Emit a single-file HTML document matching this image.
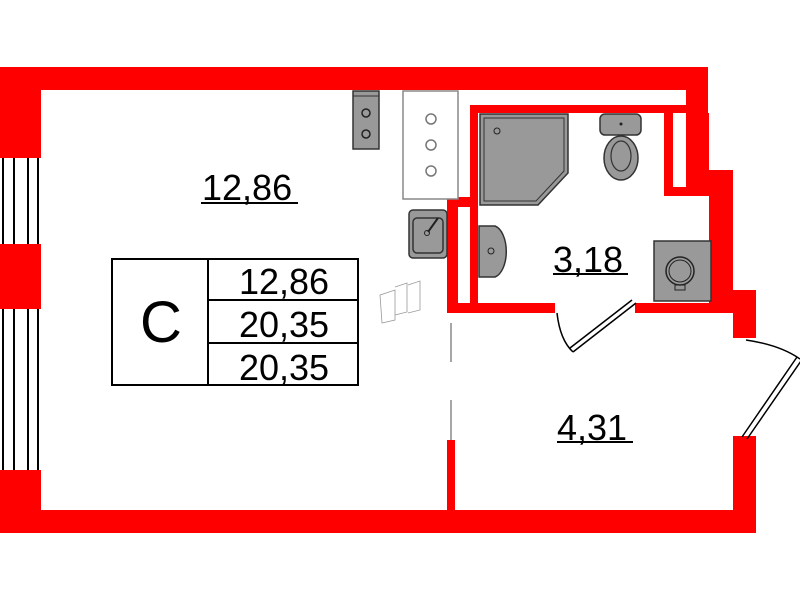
<!DOCTYPE html>
<html><head><meta charset="utf-8"><style>
html,body{margin:0;padding:0;background:#fff;width:800px;height:600px;overflow:hidden}
svg{display:block}
text{font-family:"Liberation Sans",sans-serif;fill:#000}
</style></head><body>
<svg width="800" height="600" viewBox="0 0 800 600">
<g fill="#ff0000">
<!-- outer walls -->
<rect x="0" y="67" width="708" height="23"/>
<rect x="686" y="67" width="22" height="105"/>
<rect x="709" y="170" width="24" height="143"/>
<rect x="733" y="290" width="23" height="48"/>
<rect x="733" y="436" width="23" height="97"/>
<rect x="0" y="510" width="756" height="23"/>
<rect x="0" y="67" width="41" height="91"/>
<rect x="0" y="244" width="41" height="65"/>
<rect x="0" y="470" width="41" height="63"/>
<!-- bathroom walls -->
<rect x="470" y="105" width="217" height="8"/>
<rect x="470" y="105" width="8" height="208"/>
<rect x="447" y="200" width="11" height="113"/>
<rect x="447" y="197" width="31" height="10"/>
<rect x="447" y="303" width="108" height="10"/>
<rect x="635" y="303" width="98" height="10"/>
<rect x="664" y="113" width="45" height="83"/>
<rect x="447" y="440" width="8" height="70"/>
</g>
<rect x="673" y="113" width="13" height="74" fill="#fff"/>
<!-- windows -->
<g stroke="#000" stroke-width="2">
<line x1="3" y1="158" x2="3" y2="244"/><line x1="14" y1="158" x2="14" y2="244"/><line x1="28" y1="158" x2="28" y2="244"/><line x1="38" y1="158" x2="38" y2="244"/>
<line x1="3" y1="309" x2="3" y2="470"/><line x1="14" y1="309" x2="14" y2="470"/><line x1="28" y1="309" x2="28" y2="470"/><line x1="38" y1="309" x2="38" y2="470"/>
</g>
<!-- partition -->
<line x1="451" y1="323" x2="451" y2="362" stroke="#888" stroke-width="1.5"/>
<line x1="451" y1="400" x2="451" y2="440" stroke="#888" stroke-width="1.5"/>
<!-- kitchen -->
<rect x="353" y="91" width="26" height="58" fill="#999" stroke="#333" stroke-width="1.5"/>
<line x1="353" y1="96" x2="379" y2="96" stroke="#333"/>
<circle cx="366" cy="113" r="4" fill="none" stroke="#222" stroke-width="1.5"/>
<circle cx="366" cy="134" r="4" fill="none" stroke="#222" stroke-width="1.5"/>
<rect x="403" y="91" width="55" height="108" fill="#fff" stroke="#888" stroke-width="1.5"/>
<g fill="none" stroke="#777" stroke-width="1.5"><circle cx="431" cy="119" r="5"/><circle cx="431" cy="145" r="5"/><circle cx="431" cy="171" r="5"/></g>
<rect x="409" y="210" width="38" height="48" rx="4" fill="#999" stroke="#333" stroke-width="1.5"/>
<rect x="413" y="218" width="30" height="35" rx="4" fill="none" stroke="#333" stroke-width="1.5"/>
<line x1="428" y1="232" x2="438" y2="218" stroke="#222" stroke-width="2"/>
<circle cx="427" cy="233" r="2.5" fill="none" stroke="#222"/>
<g fill="none" stroke="#999" stroke-width="0.8"><path d="M380 295 L395 290 L395 320 L382 323 Z"/><path d="M395 287 L407 283 L407 312 L395 315"/><path d="M408 285 L420 281 L420 310 L408 313"/></g>
<!-- bathroom fixtures -->
<path d="M480 114 L568 114 L568 173 L538 205 L480 205 Z" fill="#999" stroke="#333" stroke-width="1.5"/>
<path d="M484 118 L564 118 L564 171 L536 201 L484 201 Z" fill="none" stroke="#333" stroke-width="1"/>
<circle cx="497" cy="131" r="3" fill="none" stroke="#222"/>
<rect x="600" y="114" width="41" height="21" rx="5" fill="#999" stroke="#333" stroke-width="1.5"/>
<circle cx="621" cy="124" r="1.5" fill="#222"/>
<ellipse cx="621" cy="158" rx="17" ry="22" fill="#999" stroke="#333" stroke-width="1.5"/>
<ellipse cx="621" cy="156" rx="10" ry="15" fill="none" stroke="#333" stroke-width="1.2"/>
<path d="M479 226 L495 226 A14 26 0 0 1 495 277 L479 277 Z" fill="#999" stroke="#333" stroke-width="1.5"/>
<circle cx="491" cy="251" r="3" fill="none" stroke="#222"/>
<rect x="654" y="241" width="57" height="60" fill="#999" stroke="#333" stroke-width="1.5"/>
<circle cx="680" cy="271" r="14" fill="none" stroke="#222" stroke-width="1.5"/>
<circle cx="680" cy="271" r="11" fill="none" stroke="#222" stroke-width="1"/>
<rect x="675" y="285" width="10" height="5" fill="none" stroke="#222"/>
<!-- doors -->
<path d="M557 313 Q560 340 573 352" fill="none" stroke="#000" stroke-width="1.5"/>
<path d="M573 352 L636 303 M570 348 L632 300" fill="none" stroke="#000" stroke-width="1.5"/>
<path d="M746 340 Q780 345 800 359" fill="none" stroke="#000" stroke-width="1.5"/>
<path d="M742 437 L797 357 M747 439 L801 361" fill="none" stroke="#000" stroke-width="1.5"/>
<!-- table -->
<g fill="none" stroke="#000" stroke-width="2">
<rect x="112" y="259" width="246" height="126"/>
<line x1="208" y1="259" x2="208" y2="385"/>
<line x1="208" y1="300" x2="358" y2="300"/>
<line x1="208" y1="343" x2="358" y2="343"/>
</g>
<text x="161" y="342" font-size="58" text-anchor="middle">C</text>
<text x="284" y="294" font-size="36" text-anchor="middle">12,86</text>
<text x="284" y="337" font-size="36" text-anchor="middle">20,35</text>
<text x="284" y="380" font-size="36" text-anchor="middle">20,35</text>
<!-- area labels -->
<text x="202" y="200" font-size="36">12,86</text>
<line x1="201" y1="203" x2="298" y2="203" stroke="#000" stroke-width="2"/>
<text x="553" y="272" font-size="36">3,18</text>
<line x1="553" y1="274" x2="628" y2="274" stroke="#000" stroke-width="2"/>
<text x="557" y="440" font-size="36">4,31</text>
<line x1="557" y1="442" x2="633" y2="442" stroke="#000" stroke-width="2"/>
</svg>
</body></html>
